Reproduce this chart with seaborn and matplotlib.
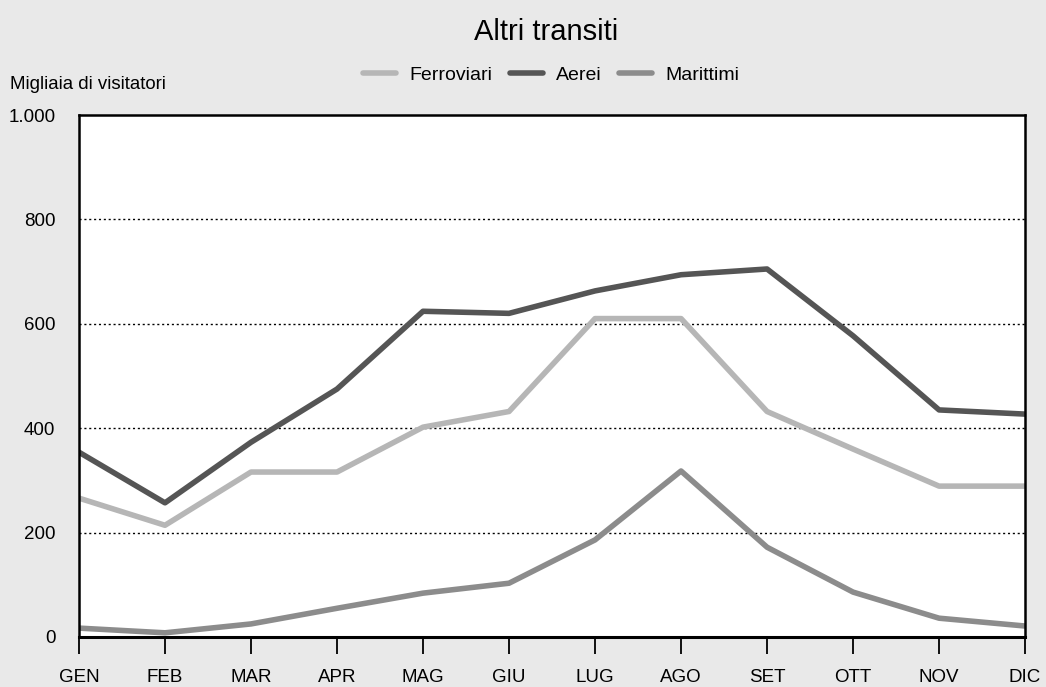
import pandas as pd
import seaborn as sns
import matplotlib.pyplot as plt

months = ['GEN', 'FEB', 'MAR', 'APR', 'MAG', 'GIU', 'LUG', 'AGO', 'SET', 'OTT', 'NOV', 'DIC']
ferroviari = [266, 214, 316, 316, 402, 432, 610, 610, 432, 360, 289, 289]
aerei = [354, 257, 373, 475, 624, 620, 663, 694, 705, 577, 435, 427]
marittimi = [17, 8, 25, 55, 84, 103, 186, 318, 172, 86, 36, 21]
y_ticks = [0, 200, 400, 600, 800, 1000]
y_labels = ['0', '200', '400', '600', '800', '1.000']

df = pd.DataFrame({
    'mese': list(range(12)) * 3,
    'valore': ferroviari + aerei + marittimi,
    'serie': ['Ferroviari'] * 12 + ['Aerei'] * 12 + ['Marittimi'] * 12,
})

sns.set_style('white')
plt.rcParams['font.family'] = ['Liberation Sans', 'DejaVu Sans']
plt.rcParams['text.color'] = 'black'
plt.rcParams['xtick.bottom'] = True
plt.rcParams['xtick.major.size'] = 12
plt.rcParams['xtick.major.width'] = 1.3
plt.rcParams['xtick.color'] = 'black'
plt.rcParams['ytick.color'] = 'black'
plt.rcParams['xtick.direction'] = 'out'

fig = plt.figure(figsize=(10.46, 6.87), dpi=100, facecolor='#e9e9e9')
ax = fig.add_axes([0.0755, 0.0728, 0.9045, 0.7598])
ax.set_facecolor('white')

colori = {'Ferroviari': '#b6b6b6', 'Aerei': '#555555', 'Marittimi': '#8c8c8c'}
sns.lineplot(data=df, x='mese', y='valore', hue='serie', palette=colori,
             linewidth=4, ax=ax, legend=False)

# griglia tratteggiata
for v in y_ticks[1:-1]:
    ax.axhline(v, color='black', linestyle=(0, (1.5, 2)), linewidth=1, zorder=0)

ax.set_xlim(0, 11)
ax.set_ylim(0, 1000)
ax.set_xticks(range(12))
ax.set_xticklabels(months, fontsize=13.5)
ax.set_yticks(y_ticks)
ax.set_yticklabels(y_labels, fontsize=13.5)
ax.tick_params(axis='x', which='major', bottom=True, length=12, width=1.3, pad=11, colors='black')
ax.tick_params(axis='y', left=False, length=0, pad=17, colors='black')
ax.set_xlabel('')
ax.set_ylabel('')
for s in ax.spines.values():
    s.set_color('black')
    s.set_linewidth(1.8)
ax.spines['bottom'].set_linewidth(2.2)

fig.text(0.522, 0.953, 'Altri transiti', ha='center', va='center', fontsize=21, color='black')
fig.text(0.01, 0.877, 'Migliaia di visitatori', ha='left', va='center', fontsize=13.4, color='black')

handles = [plt.Line2D([], [], color=colori[k], linewidth=4) for k in ['Ferroviari', 'Aerei', 'Marittimi']]
leg = fig.legend(handles, ['Ferroviari', 'Aerei', 'Marittimi'], loc='center', bbox_to_anchor=(0.527, 0.891),
                 ncol=3, frameon=False, fontsize=14, handlelength=1.7, handletextpad=0.67, columnspacing=0.9)
for t in leg.get_texts():
    t.set_color('black')

plt.savefig('out.png', dpi=100, facecolor=fig.get_facecolor())
